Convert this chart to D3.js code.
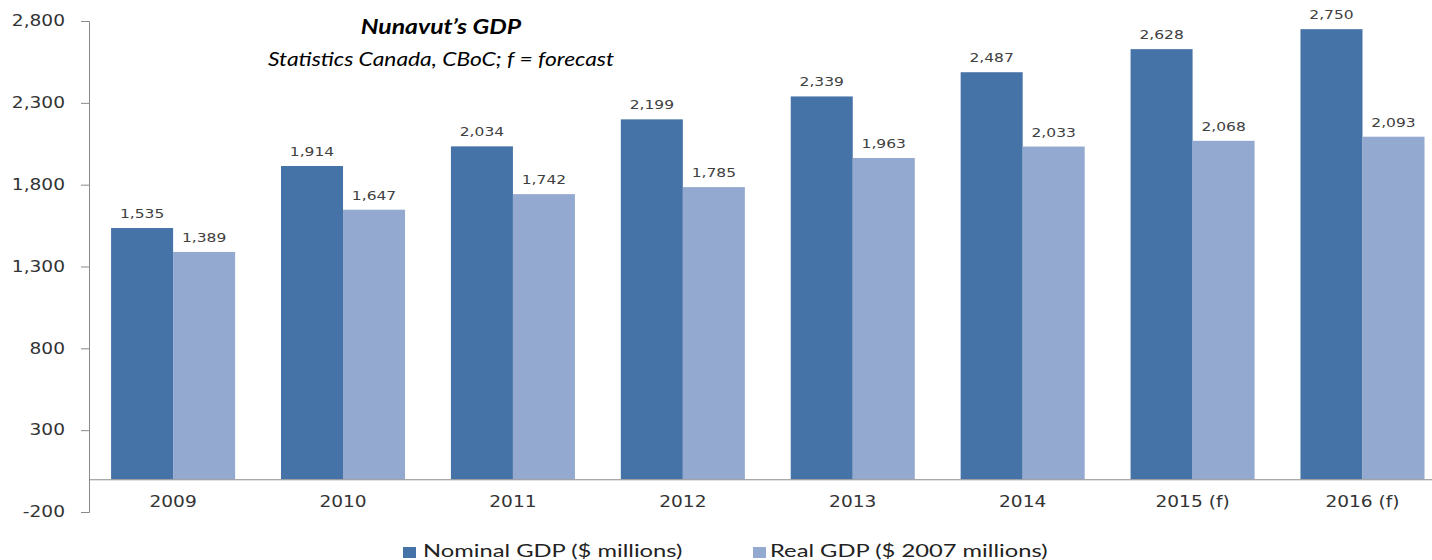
<!DOCTYPE html>
<html>
<head>
<meta charset="utf-8">
<script src="https://cdn.jsdelivr.net/npm/d3@7"></script>
<style>
  html, body { margin: 0; padding: 0; background: #fff; }
  svg { display: block; }
</style>
</head>
<body>
<svg id="chart" width="1432" height="560"></svg>
<script>
// ---- data ----
const categories = ["2009", "2010", "2011", "2012", "2013", "2014", "2015 (f)", "2016 (f)"];
const nominalGDP = [1535, 1914, 2034, 2199, 2339, 2487, 2628, 2750];
const realGDP = [1389, 1647, 1742, 1785, 1963, 2033, 2068, 2093];
const seriesNames = ["Nominal GDP ($ millions)", "Real GDP ($ 2007 millions)"];
const yTicks = [-200, 300, 800, 1300, 1800, 2300, 2800];
const titleText = "Nunavut\u2019s GDP";
const subtitleText = "Statistics Canada, CBoC; f = forecast";

// ---- styles ----
const colors = ["#4572A7", "#93A9CF"];
const axisColor = "#8a8a8a";
const K = 1.24; // horizontal text stretch of the original picture
const W = 1432, H = 560;
const plotLeft = 89, step = 169.7;

const svg = d3.select("#chart");

const x = d3.scaleBand()
  .domain(categories)
  .range([plotLeft, plotLeft + step * categories.length])
  .paddingInner(0.27)
  .paddingOuter(0.13);

const xs = d3.scaleBand()
  .domain([0, 1])
  .range([0, x.bandwidth()]);

const y = d3.scaleLinear()
  .domain([-200, 2800])
  .range([512, 21]);

const fmt = d => d3.format(",")(d).replace("\u2212", "-");

// ---- bars ----
const seriesData = [nominalGDP, realGDP];
seriesData.forEach((vals, si) => {
  svg.append("g")
    .selectAll("rect")
    .data(vals)
    .join("rect")
    .attr("x", (d, i) => x(categories[i]) + xs(si))
    .attr("width", xs.bandwidth())
    .attr("y", d => y(d))
    .attr("height", d => y(0) - y(d))
    .attr("fill", colors[si]);
});

// ---- data labels ----
seriesData.forEach((vals, si) => {
  svg.append("g")
    .selectAll("text")
    .data(vals)
    .join("text")
    .attr("transform", (d, i) =>
      `translate(${x(categories[i]) + xs(si) + xs.bandwidth() / 2},${y(d) - 10}) scale(${K},1)`)
    .attr("text-anchor", "middle")
    .attr("font-family", "DejaVu Sans, Verdana, sans-serif")
    .attr("font-size", 12.5)
    .attr("fill", "#404040")
    .text(d => fmt(d));
});

// ---- y axis ----
const yAxis = svg.append("g")
  .attr("transform", `translate(${plotLeft},0)`)
  .call(d3.axisLeft(y).tickValues(yTicks).tickFormat(fmt).tickSize(8).tickSizeOuter(8));
yAxis.select(".domain").attr("stroke", axisColor);
yAxis.selectAll(".tick line").attr("stroke", axisColor);
yAxis.selectAll(".tick text")
  .attr("x", null)
  .attr("transform", `translate(-24,0) scale(${K},1)`)
  .attr("font-family", "DejaVu Sans, Verdana, sans-serif")
  .attr("font-size", 15)
  .attr("fill", "#333");

// ---- x axis at zero ----
const xAxis = svg.append("g")
  .attr("transform", `translate(0,${y(0)})`)
  .call(d3.axisBottom(x).tickSize(0).tickSizeOuter(0));
xAxis.select(".domain").attr("stroke", axisColor);
xAxis.selectAll(".tick text")
  .attr("y", null)
  .attr("dy", null)
  .attr("transform", `translate(0,28) scale(${K},1)`)
  .attr("font-family", "DejaVu Sans, Verdana, sans-serif")
  .attr("font-size", 15)
  .attr("fill", "#333");

// ---- title ----
svg.append("text")
  .attr("transform", `translate(441,34) scale(${K},1)`)
  .attr("text-anchor", "middle")
  .attr("font-family", "Lato, Open Sans, sans-serif")
  .attr("font-weight", "bold")
  .attr("font-style", "italic")
  .attr("font-size", 20)
  .attr("fill", "#000")
  .text(titleText);

svg.append("text")
  .attr("transform", `translate(441,66) scale(1.2,1)`)
  .attr("text-anchor", "middle")
  .attr("font-family", "Lato, Open Sans, sans-serif")
  .attr("font-style", "italic")
  .attr("font-size", 19)
  .attr("fill", "#000")
  .text(subtitleText);

// ---- legend ----
const legendX = [403, 753];
const legend = svg.append("g")
  .selectAll("g")
  .data(seriesNames)
  .join("g")
  .attr("transform", (d, i) => `translate(${legendX[i]},0)`);
legend.append("rect")
  .attr("x", 0).attr("y", 547)
  .attr("width", 13).attr("height", 11)
  .attr("fill", (d, i) => colors[i]);
legend.append("text")
  .attr("transform", (d, i) => `translate(${i === 0 ? 20 : 17},557) scale(1.32,1)`)
  .attr("font-family", "Lato, Open Sans, sans-serif")
  .attr("font-size", 18)
  .attr("fill", "#222")
  .text(d => d);
</script>
</body>
</html>
